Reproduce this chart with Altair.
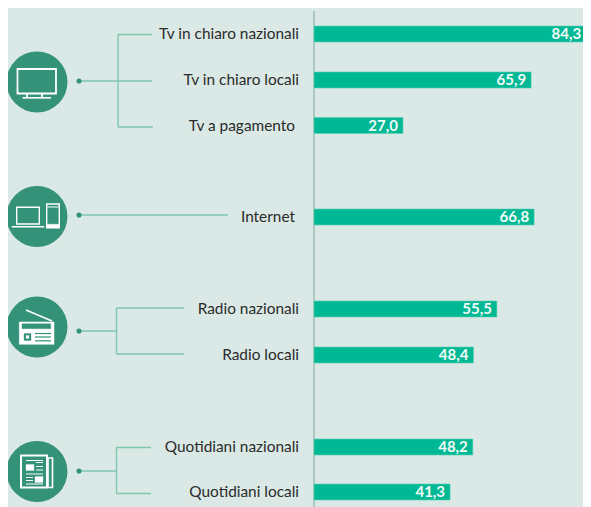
import altair as alt
import pandas as pd

# ---- chart values
categories = ["Tv in chiaro nazionali", "Tv in chiaro locali", "Tv a pagamento", "Internet",
              "Radio nazionali", "Radio locali", "Quotidiani nazionali", "Quotidiani locali"]
values = [84.3, 65.9, 27.0, 66.8, 55.5, 48.4, 48.2, 41.3]
label_anchor = [82.6, 65.9, 27.0, 66.8, 55.5, 48.4, 48.2, 41.3]
bar_rows = [34, 80, 125.5, 217, 309, 355, 447, 492]
label_rows = [33.5, 79.5, 125.5, 217, 308.5, 354.5, 446.5, 491.5]
label_ends = [299, 299, 295, 295, 299, 299, 299, 299]

# ---- connector segments (x, x2, y, y2)
seg_x = [79, 118, 118, 118, 79, 79, 116.5, 116.5, 116.5, 79, 116.5, 116.5, 116.5]
seg_x2 = [152, 118, 152, 153, 228, 116.5, 116.5, 184, 184, 116.5, 116.5, 151, 151]
seg_y = [81, 34.5, 34.5, 127, 215, 331, 308, 308, 354, 471, 447.5, 447.5, 493.5]
seg_y2 = [81, 127, 34.5, 127, 215, 331, 354, 308, 354, 471, 493.5, 447.5, 493.5]
dot_x = [79, 79, 79, 79]
dot_y = [81, 215, 331, 471]

# ---- icon badges
badge_x = [37, 37, 37, 37]
badge_y = [82, 216.5, 327, 471.5]


def rect(x0, y0, x1, y1):
    return [("M", x0, y0), ("L", x1, y0), ("L", x1, y1), ("L", x0, y1), ("Z",)]


def line(x0, y0, x1, y1):
    return [("M", x0, y0), ("L", x1, y1)]


def to_path(cmds):
    out = []
    for c in cmds:
        if c[0] == "Z":
            out.append("Z")
        else:
            out.append(f"{c[0]}{c[1] / 30:.3f},{c[2] / 30:.3f}")
    return " ".join(out)


GREEN = "#339278"
WHITE = "#ffffff"
# badge index, commands, fill, stroke, stroke width
parts = [
    (0, rect(-19.5, -13, 19, 11.5), GREEN, WHITE, 1.8),
    (0, line(-10, 11.5, -10, 15.5), GREEN, WHITE, 1.8),
    (0, line(5, 11.5, 5, 15.5), GREEN, WHITE, 1.8),
    (0, line(-14.5, 15.8, 14, 15.8), GREEN, WHITE, 1.6),

    (1, rect(-20.3, -9.2, 2.3, 7.5), GREEN, WHITE, 1.4),
    (1, line(-25.3, 10.2, 7.3, 10.2), GREEN, WHITE, 1.6),
    (1, rect(9.7, -12.5, 22.3, 11.2), GREEN, WHITE, 1.4),
    (1, line(10, -9.5, 22, -9.5), GREEN, WHITE, 1),
    (1, rect(10, 7.8, 22, 11), WHITE, WHITE, 0.5),

    (2, line(-11, -17, 15, -6), GREEN, WHITE, 1.6),
    (2, rect(-17.7, -5, 17, 17.3), WHITE, WHITE, 0.5),
    (2, rect(-15, -3.3, 13.7, 1.7), GREEN, GREEN, 0.3),
    (2, line(-2, 6.5, 14, 6.5), GREEN, GREEN, 1.2),
    (2, line(-2, 10, 14, 10), GREEN, GREEN, 1.2),
    (2, line(-2, 13.8, 14, 13.8), GREEN, GREEN, 1.2),
    (2, rect(-13, 6.5, -6, 13.5), GREEN, GREEN, 0.3),
    (2, rect(-11, 8.5, -8, 11.5), WHITE, WHITE, 0.2),

    (3, rect(11, -13.5, 15.5, 16), GREEN, WHITE, 1.6),
    (3, rect(-16, -16, 10, 16), GREEN, WHITE, 2),
    (3, rect(-11, -7, -3, -1), WHITE, WHITE, 0.3),
    (3, line(-1, -9, 6, -9), GREEN, WHITE, 1),
    (3, line(-11, -11, 6, -11), GREEN, WHITE, 1),
    (3, line(-1, -5, 6, -5), GREEN, WHITE, 1),
    (3, line(-1, -1.5, 6, -1.5), GREEN, WHITE, 1),
    (3, line(-11, 2.5, 6, 2.5), GREEN, WHITE, 1),
    (3, rect(-2, 5, 6, 11), WHITE, WHITE, 0.3),
    (3, line(-11, 6, -4, 6), GREEN, WHITE, 1),
    (3, line(-11, 9, -4, 9), GREEN, WHITE, 1),
    (3, line(-11, 12.5, 6, 12.5), GREEN, WHITE, 1),
]

df_bars = pd.DataFrame({
    "cat": categories, "value": values, "row": bar_rows, "anchor": label_anchor,
    "label": [f"{v:.1f}".replace(".", ",") for v in values],
})
df_labels = pd.DataFrame({"cat": categories, "end": label_ends, "row": label_rows})
df_seg = pd.DataFrame({"x": seg_x, "x2": seg_x2, "y": seg_y, "y2": seg_y2})
df_dots = pd.DataFrame({"x": dot_x, "y": dot_y})
df_badges = pd.DataFrame({"x": badge_x, "y": badge_y})
df_parts = pd.DataFrame([
    {"order": i, "x": badge_x[p[0]], "y": badge_y[p[0]], "path": to_path(p[1]),
     "fill": p[2], "stroke": p[3], "sw": p[4]}
    for i, p in enumerate(parts)
])

W, H = 575, 499
px = alt.Scale(domain=[8, 8 + W], range=[0, W], nice=False, zero=False, padding=0)
py = alt.Scale(domain=[8, 8 + H], range=[0, H], nice=False, zero=False, padding=0)
val = alt.Scale(domain=[(8 - 314) / 3.295, (8 + W - 314) / 3.295], range=[0, W], nice=False, zero=False, padding=0)

X = lambda f: alt.X(f, type="quantitative", scale=px, axis=None)
Y = lambda f: alt.Y(f, type="quantitative", scale=py, axis=None)
V = lambda f: alt.X(f, type="quantitative", scale=val, axis=None)

CONN = "#7FC6B1"

segs = alt.Chart(df_seg).mark_rule(color=CONN, strokeWidth=1.4).encode(
    x=X("x"), x2="x2", y=Y("y"), y2="y2")
dots = alt.Chart(df_dots).mark_point(filled=True, color=GREEN, size=26, opacity=1).encode(x=X("x"), y=Y("y"))
badges = alt.Chart(df_badges).mark_point(filled=True, color=GREEN, size=3721, opacity=1).encode(x=X("x"), y=Y("y"))

layers_icons = []
for _, r in df_parts.iterrows():
    layers_icons.append(
        alt.Chart(df_parts[df_parts["order"] == r["order"]]).mark_point(
            shape=r["path"], size=3600, fill=r["fill"], stroke=r["stroke"],
            strokeWidth=float(r["sw"]), opacity=1, fillOpacity=1, strokeOpacity=1,
        ).encode(x=X("x"), y=Y("y"))
    )

names = alt.Chart(df_labels).mark_text(
    align="right", baseline="middle", font="Lato", fontSize=15.4, color="#2b2b2b"
).encode(x=X("end"), y=Y("row"), text="cat:N")

px_layer = alt.layer(segs, dots, badges, *layers_icons, names)

bars = alt.Chart(df_bars).mark_bar(
    size=16, orient="horizontal", color="#00B894", stroke="#5CD0B5", strokeWidth=0.6, clip=True
).encode(x=V("value"), x2=alt.datum(0), y=Y("row"))
axis_line = alt.Chart(pd.DataFrame({"x": [0], "y": [11], "y2": [8 + H]})).mark_rule(
    color="#8DB5A9", strokeWidth=1.2
).encode(x=V("x"), y=Y("y"), y2="y2")
val_text = alt.Chart(df_bars).mark_text(
    align="right", baseline="middle", dx=-5, font="Lato", fontSize=15, fontWeight="bold", color="#F2FBF8"
).encode(x=V("anchor"), y=Y("row"), text="label:N")

val_layer = alt.layer(axis_line, bars, val_text)

chart = alt.layer(px_layer, val_layer).resolve_scale(x="independent").properties(
    width=W, height=H, background="#DAE9E5", padding=0,
    autosize=alt.AutoSizeParams(type="none", contains="padding")
).configure_view(stroke=None)

chart.save("out.html", embed_options={"renderer": "svg", "actions": False})
